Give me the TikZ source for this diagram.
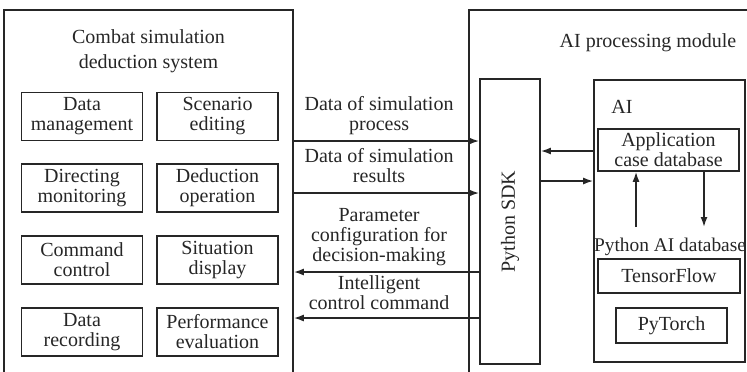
\documentclass[tikz,border=0pt]{standalone}
\usepackage{fontspec}
\setmainfont{Liberation Serif}
\usetikzlibrary{arrows.meta}
\definecolor{mygray}{rgb}{0.15,0.15,0.15}

\begin{document}
\begin{tikzpicture}[x=0.5pt, y=-0.5pt, >={Latex[length=5pt,width=3.5pt]}, line width=0.8pt, color=mygray,
	txt/.style={font=\fontsize{10}{10}\selectfont, align=center},
	unit/.style={txt, draw, minimum width=60.5pt, minimum height=24pt, inner sep=1pt},
	frame/.style={draw, inner sep=0pt}]
			\useasboundingbox (0,0) rectangle (747,371);
			\clip (0,0) rectangle (747,371);

			% Draw the two outer frames (cut off at the bottom)
			\node[frame, minimum width=144.5pt, minimum height=190pt] (sim) at (148.5,200) {};
			\node[frame, minimum width=150.5pt, minimum height=190pt] (aimod) at (619.5,200) {};
			\node[txt, font=\fontsize{10}{12.5}\selectfont] (simtitle) at (148.5,51) {Combat simulation\\deduction system};
			\node[txt, anchor=base] (aimodtitle) at (648,47) {AI processing module};

			% Draw the function blocks of the simulation system
			\node[unit] (datamgmt) at (82,116.5) {Data\\management};
			\node[unit] (scenario) at (217.5,116.5) {Scenario\\editing};
			\node[unit] (directing) at (82,188) {Directing\\monitoring};
			\node[unit] (deduction) at (217.5,188) {Deduction\\operation};
			\node[unit] (command) at (82,260) {Command\\control};
			\node[unit] (situation) at (217.5,260) {Situation\\display};
			\node[unit] (recording) at (82,332) {Data\\recording};
			\node[unit] (performance) at (217.5,332) {Performance\\evaluation};

			% Draw the SDK and the AI part
			\node[frame, minimum width=30pt, minimum height=142.5pt] (sdk) at (510,221.5) {};
			\node[txt, rotate=90] (sdklabel) at (sdk.center) {Python SDK};
			\node[frame, minimum width=75.5pt, minimum height=141pt] (ai) at (669.5,221) {};
			\node[txt, anchor=base west] (ailabel) at (604,113) {AI};
			\node[unit, minimum width=70.5pt, minimum height=21pt, inner sep=0pt] (appcase) at (668.5,150) {Application\\case database};
			\node[txt, anchor=base, font=\fontsize{9.7}{10}\selectfont] (pyaidb) at (670,251) {Python AI database};
			\node[unit, minimum width=71pt, minimum height=17pt] (tensorflow) at (669,276) {TensorFlow};
			\node[unit, minimum width=55.5pt, minimum height=17.5pt] (pytorch) at (671.5,325.5) {PyTorch};

			% Draw the data flows between system and SDK
			\draw[->] (sim.east |- 0,141) -- (sdk.west |- 0,141) node[pos=0.46, above, txt, inner sep=2.5pt] {Data of simulation\\process};
			\draw[->] (sim.east |- 0,193) -- (sdk.west |- 0,193) node[pos=0.46, above, txt, inner sep=2.5pt, yshift=2.5pt] {Data of simulation\\results};
			\draw[->] (sdk.west |- 0,272) -- (sim.east |- 0,272) node[pos=0.54, above, txt, inner sep=2.5pt] {Parameter\\configuration for\\decision-making};
			\draw[->] (sdk.west |- 0,318) -- (sim.east |- 0,318) node[pos=0.54, above, txt, inner sep=2.5pt, yshift=1.5pt] {Intelligent\\control command};

			% Draw the flows between SDK and AI
			\draw[->] (ai.west |- 0,151) -- (sdk.east |- 0,151);
			\draw[->] (sdk.east |- 0,181) -- (ai.west |- 0,181);
			\coordinate (upfoot) at (636,227);
			\coordinate (downfoot) at (704,227);
			\draw[->] (upfoot) -- (appcase.south -| upfoot);
			\draw[->] (appcase.south -| downfoot) -- (downfoot);
		\end{tikzpicture}
\end{document}
